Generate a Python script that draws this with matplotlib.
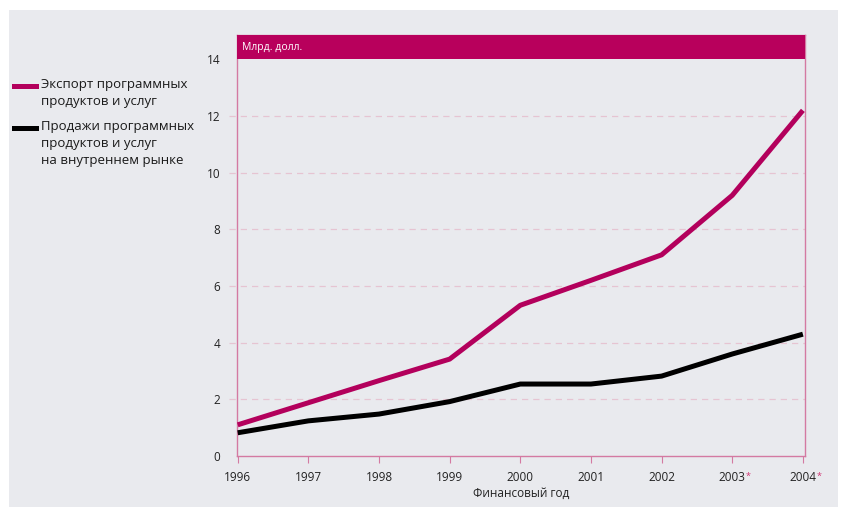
import matplotlib
matplotlib.use("Agg")
import matplotlib.pyplot as plt
from matplotlib.patches import Rectangle
from matplotlib.transforms import blended_transform_factory, offset_copy

plt.rcParams['font.family'] = ['Open Sans', 'DejaVu Sans']

years = [1996, 1997, 1998, 1999, 2000, 2001, 2002, 2003, 2004]
year_labels = ["1996", "1997", "1998", "1999", "2000", "2001", "2002", "2003", "2004"]
starred = [2003, 2004]
export = [1.1, 1.88, 2.66, 3.42, 5.32, 6.2, 7.1, 9.2, 12.2]
domestic = [0.82, 1.24, 1.48, 1.92, 2.54, 2.54, 2.82, 3.6, 4.3]
yticks = [0, 2, 4, 6, 8, 10, 12, 14]
series_names = ["Экспорт программных\nпродуктов и услуг",
                "Продажи программных\nпродуктов и услуг\nна внутреннем рынке"]
header_text = "Млрд. долл."
xlabel = "Финансовый год"

MAGENTA = "#b3005c"
FRAME = "#d47aa2"
GRID = "#e6c4d2"
BG = "#e9eaee"

fig = plt.figure(figsize=(8.43, 5.12), dpi=100, facecolor="white")
fig.patches.append(Rectangle((9/843, 1-507/512), (838-9)/843, (507-10)/512,
                             transform=fig.transFigure, facecolor=BG, edgecolor="none", zorder=-10))

ax = fig.add_axes([237/843, 1-456/512, (805-237)/843, (456-35)/512])
ax.set_zorder(2)
ax.set_facecolor(BG)
ymax = 14.86
ax.set_ylim(0, ymax)
ax.set_xlim(1995.99, 2004.03)

for s in ax.spines.values():
    s.set_color(FRAME)
    s.set_linewidth(1.0)

# header band
ax.add_patch(Rectangle((0, 14 / ymax), 1, 1 - 14 / ymax, transform=ax.transAxes,
                       facecolor="#b8005c", edgecolor="none", zorder=5, clip_on=False))
ax.text(0.008, (14 + ymax) / 2 / ymax, header_text, transform=ax.transAxes, color="white",
        fontsize=7.5, va="center", ha="left", zorder=6)

# gridlines
tr = blended_transform_factory(ax.transAxes, ax.transData)
for y in yticks[1:-1]:
    ax.plot([-0.014, 1], [y, y], transform=tr, color=GRID, lw=0.9,
            dashes=(5, 4), clip_on=False, zorder=1)

ax.plot(years, export, color=MAGENTA, lw=3.6, solid_capstyle="butt", zorder=3)
ax.plot(years, domestic, color="black", lw=3.6, solid_capstyle="butt", zorder=3)

ax.set_yticks(yticks)
ax.set_yticklabels([str(v) for v in yticks], fontsize=8.5, color="#222222")
ax.tick_params(axis="y", length=0, pad=12)
ax.set_xticks(years)
ax.set_xticklabels(year_labels, fontsize=8.5, color="#222222")
ax.tick_params(axis="x", length=5, color=FRAME, width=0.8, pad=6, direction="out")
for yr in starred:
    t = offset_copy(ax.transData, fig=fig, x=11.5, y=-15, units="points")
    ax.text(yr, 0, "*", transform=t, color="#d0306f", fontsize=6.5, ha="center", va="center",
            clip_on=False)
ax.set_xlabel(xlabel, fontsize=8.5, color="#222222", labelpad=2)

# legend
leg_cols = [MAGENTA, "black"]
leg_y = [86, 128]
for c, yy, name in zip(leg_cols, leg_y, series_names):
    fig.add_artist(plt.Line2D([14/843, 36/843], [1-yy/512, 1-yy/512], color=c, lw=3.6,
                              transform=fig.transFigure))
    fig.text(41/843, 1-(yy-8)/512, name, fontsize=9.5, color="#1a1a1a", va="top", ha="left",
             linespacing=1.4)

fig.savefig("out.png", dpi=100, facecolor="white")
